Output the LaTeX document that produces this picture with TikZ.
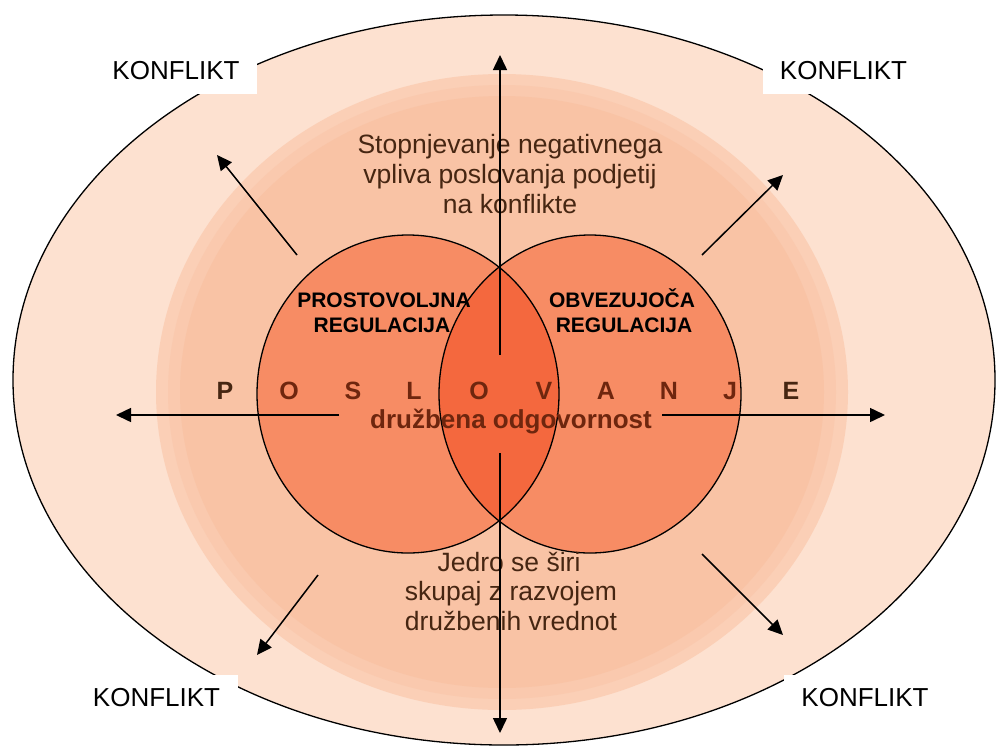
\documentclass[tikz,border=0pt]{standalone}
\usepackage{fontspec}
\setmainfont{Liberation Sans}
\usetikzlibrary{arrows.meta}
\definecolor{ringA}{RGB}{253,225,208}
\definecolor{ringB}{RGB}{251,207,182}
\definecolor{ringBC}{RGB}{250,201,174}
\definecolor{ringC}{RGB}{249,195,165}
\definecolor{circfill}{RGB}{247,140,100}
\definecolor{corefill}{RGB}{244,104,62}
\definecolor{browntext}{RGB}{70,38,18}
\definecolor{redtext}{RGB}{110,38,14}
\begin{document}
\begin{tikzpicture}[x=1pt,y=-1pt,
  arr/.style={line width=1.5pt,-{Triangle[length=15pt,width=14pt]}},
  outline/.style={line width=1.3pt,draw=black},
  konfbox/.style={fill=white,inner sep=0pt,minimum width=162pt,minimum height=46pt,
    font=\fontsize{26}{31}\selectfont,text=black},
  plain/.style={anchor=base,inner sep=0pt,font=\fontsize{26.5}{30}\selectfont,text=browntext},
  reglab/.style={anchor=base,inner sep=0pt,font=\fontsize{21}{25}\selectfont\bfseries,text=black},
  letterlab/.style={anchor=base,inner sep=0pt,font=\fontsize{25}{30}\selectfont\bfseries},
  dolab/.style={anchor=base,inner sep=0pt,font=\fontsize{26}{30}\selectfont\bfseries,text=redtext}]
\fill[white] (0,0) rectangle (998,745);
\useasboundingbox (0,0) rectangle (998,745);
% layers
\fill[ringA] (504,380) ellipse [x radius=491pt, y radius=365pt];
\fill[ringB] (502,392) ellipse [x radius=346pt, y radius=318pt];
\fill[ringBC] (502,392) ellipse [x radius=334pt, y radius=307pt];
\fill[ringC] (502,392) ellipse [x radius=322pt, y radius=296pt];
\draw[outline] (504,380) ellipse [x radius=491pt, y radius=365pt];
% circles
\fill[circfill] (408,394) ellipse [x radius=151pt, y radius=159pt];
\fill[circfill] (590,394) ellipse [x radius=151pt, y radius=159pt];
\begin{scope}
  \clip (408,394) ellipse [x radius=151pt, y radius=159pt];
  \fill[corefill] (590,394) ellipse [x radius=151pt, y radius=159pt];
\end{scope}
\draw[outline] (408,394) ellipse [x radius=151pt, y radius=159pt];
\draw[outline] (590,394) ellipse [x radius=151pt, y radius=159pt];
% texts
\node[plain] (s1) at (510,153) {Stopnjevanje negativnega};
\node[plain] (s2) at (510,183) {vpliva poslovanja podjetij};
\node[plain] (s3) at (510,213) {na konflikte};
\node[plain] (j1) at (509,571) {Jedro se širi};
\node[plain] (j2) at (511,600) {skupaj z razvojem};
\node[plain] (j3) at (511,630) {družbenih vrednot};
\node[reglab] (p1) at (384,307) {PROSTOVOLJNA};
\node[reglab] (p2) at (382,332) {REGULACIJA};
\node[reglab] (o1) at (622,307) {OBVEZUJOČA};
\node[reglab] (o2) at (624,332) {REGULACIJA};
\node[letterlab,text=browntext] (L1) at (225,399) {P};
\node[letterlab,text=redtext] (L2) at (289,399) {O};
\node[letterlab,text=redtext] (L3) at (353,399) {S};
\node[letterlab,text=redtext] (L4) at (414,399) {L};
\node[letterlab,text=redtext] (L5) at (479,399) {O};
\node[letterlab,text=redtext] (L6) at (544,399) {V};
\node[letterlab,text=redtext] (L7) at (606,399) {A};
\node[letterlab,text=redtext] (L8) at (669,399) {N};
\node[letterlab,text=redtext] (L9) at (730,399) {J};
\node[letterlab,text=browntext] (L10) at (791,399) {E};
\node[dolab] (dob) at (511,428) {družbena odgovornost};
% arrows
\coordinate (up0) at (500,355); \coordinate (up1) at (500,55);
\coordinate (dn0) at (500,453); \coordinate (dn1) at (500,733);
\coordinate (lf0) at (339,415); \coordinate (lf1) at (116,415);
\coordinate (rt0) at (662,415); \coordinate (rt1) at (885,415);
\coordinate (tl0) at (297,255); \coordinate (tl1) at (217,155);
\coordinate (tr0) at (702,255); \coordinate (tr1) at (783,175);
\coordinate (bl0) at (318,575); \coordinate (bl1) at (257,655);
\coordinate (br0) at (702,554); \coordinate (br1) at (783,635);
\draw[arr] (up0) -- (up1);
\draw[arr] (dn0) -- (dn1);
\draw[arr] (lf0) -- (lf1);
\draw[arr] (rt0) -- (rt1);
\draw[arr] (tl0) -- (tl1);
\draw[arr] (tr0) -- (tr1);
\draw[arr] (bl0) -- (bl1);
\draw[arr] (br0) -- (br1);
% KONFLIKT boxes
\node[konfbox] (k1) at (176,71) {KONFLIKT};
\node[konfbox] (k2) at (843.5,71) {KONFLIKT};
\node[konfbox] (k3) at (156.5,698) {KONFLIKT};
\node[konfbox] (k4) at (865,698) {KONFLIKT};
\end{tikzpicture}
\end{document}
